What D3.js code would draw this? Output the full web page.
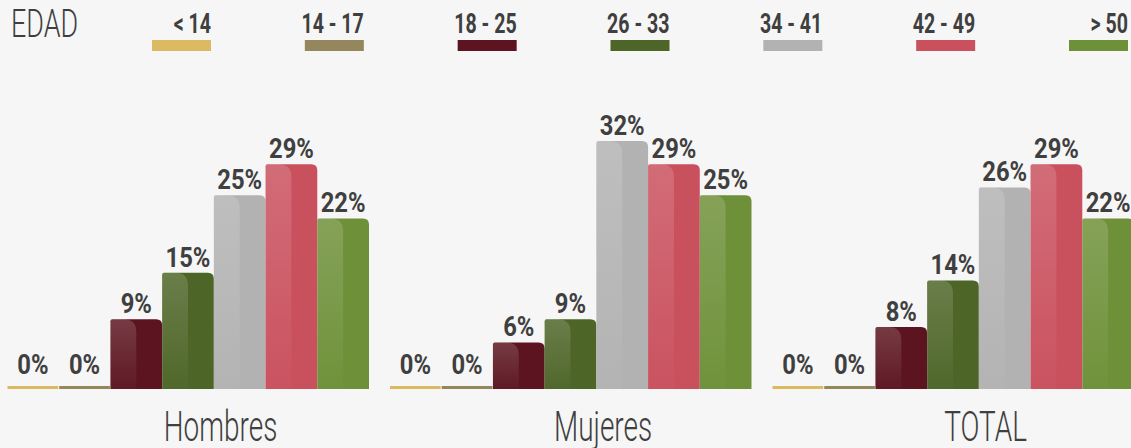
<!DOCTYPE html>
<html>
<head>
<meta charset="utf-8">
<script src="https://cdn.jsdelivr.net/npm/d3@7"></script>
<style>
  html, body { margin: 0; padding: 0; background: #f6f6f6; }
  svg { display: block; }
</style>
</head>
<body>
<svg id="chart" width="1131" height="448"></svg>
<script>
"use strict";

// age bands and their colours
const ages = ["< 14", "14 - 17", "18 - 25", "26 - 33", "34 - 41", "42 - 49", "> 50"];
const ageColors = ["#dbba62", "#94875e", "#5c1520", "#4d6527", "#b2b2b2", "#c9505d", "#6e9038"];

// groups and percentages
const groups = ["Hombres", "Mujeres", "TOTAL"];
const hombres = [0, 0, 9, 15, 25, 29, 22];
const mujeres = [0, 0, 6, 9, 32, 29, 25];
const total   = [0, 0, 8, 14, 26, 29, 22];
const series  = [hombres, mujeres, total];

const svg = d3.select("#chart");
const W = 1131, H = 448;
const textColor = "#3f3f3f";
const font = "Roboto, 'DejaVu Sans Condensed', sans-serif";

svg.append("rect").attr("width", W).attr("height", H).attr("fill", "#f6f6f6");

// highlight gradient for the left half of each bar
const defs = svg.append("defs");
const hl = defs.append("linearGradient").attr("id", "hl")
  .attr("x1", 0).attr("y1", 0).attr("x2", 0).attr("y2", 1);
hl.append("stop").attr("offset", "0%").attr("stop-color", "#fff").attr("stop-opacity", 0.16);
hl.append("stop").attr("offset", "100%").attr("stop-color", "#fff").attr("stop-opacity", 0.02);

// scales
const x0 = d3.scaleBand().domain(groups).range([7, 1134]).paddingInner(0.0536);
const x1 = d3.scaleBand().domain(ages).range([0, x0.bandwidth()]).padding(0);
const y  = d3.scaleLinear().domain([0, 32]).range([389, 141]);
const color = d3.scaleOrdinal().domain(ages).range(ageColors);

// bar outline: small radius top-left, bigger radius top-right
function barPath(x, top, w, bottom, rl, rr) {
  const h = bottom - top;
  rl = Math.min(rl, h); rr = Math.min(rr, h);
  return `M${x},${bottom}V${top + rl}Q${x},${top} ${x + rl},${top}` +
         `H${x + w - rr}Q${x + w},${top} ${x + w},${top + rr}V${bottom}Z`;
}

// condense text horizontally around its anchor point (the original face is a condensed one)
function condense(sel, k) {
  sel.each(function () {
    const t = d3.select(this);
    const tx = +t.attr("x"), ty = +t.attr("y");
    t.attr("transform", `translate(${tx},${ty}) scale(${k},1) translate(${-tx},${-ty})`);
  });
}

const minH = 3;

groups.forEach((g, gi) => {
  const data = ages.map((a, i) => ({ age: a, value: series[gi][i] }));
  const gg = svg.append("g").attr("transform", `translate(${x0(g)},0)`);

  const bars = gg.selectAll(".bar").data(data).enter().append("g").attr("class", "bar");

  bars.append("path")
    .attr("d", d => {
      const top = Math.min(y(d.value), y(0) - minH);
      const big = d.value > 0;
      return barPath(x1(d.age) + (big ? 0 : 0.5), top, x1.bandwidth() - (big ? 0 : 1), y(0), big ? 2 : 0, big ? 6 : 0);
    })
    .attr("fill", d => color(d.age));

  // lighter left half
  bars.filter(d => d.value > 0).append("path")
    .attr("d", d => barPath(x1(d.age), y(d.value), x1.bandwidth() * 0.5, y(0), 2, 13))
    .attr("fill", "url(#hl)");

  // value labels
  bars.append("text")
    .attr("x", d => x1(d.age) + x1.bandwidth() / 2)
    .attr("y", d => Math.min(y(d.value), y(0) - 9) - 6)
    .attr("text-anchor", "middle")
    .attr("font-family", font)
    .attr("font-weight", 700)
    .attr("font-size", 28)
    .attr("fill", textColor)
    .text(d => d.value + "%")
    .call(condense, 0.85);

  // group title
  svg.append("text")
    .attr("x", x0(g) + x0.bandwidth() * 0.59)
    .attr("y", 441)
    .attr("text-anchor", "middle")
    .attr("font-family", font)
    .attr("font-weight", 300)
    .attr("font-size", 43)
    .attr("fill", textColor)
    .text(g)
    .call(condense, 0.65);
});

// legend
const title = svg.append("text")
  .attr("x", 11).attr("y", 37)
  .attr("font-family", font)
  .attr("font-weight", 300)
  .attr("font-size", 39)
  .attr("fill", textColor)
  .text("EDAD");
condense(title, 0.69);

const lx = d3.scalePoint().domain(ages).range([211, 1128]);
const leg = svg.selectAll(".leg").data(ages).enter().append("g").attr("class", "leg");

leg.append("rect")
  .attr("x", d => lx(d) - 59).attr("y", 40)
  .attr("width", 59).attr("height", 11)
  .attr("fill", d => color(d));

leg.append("text")
  .attr("x", d => lx(d)).attr("y", 33)
  .attr("text-anchor", "end")
  .attr("font-family", font)
  .attr("font-weight", 700)
  .attr("font-size", 28)
  .attr("fill", textColor)
  .text(d => d)
  .call(condense, 0.7);
</script>
</body>
</html>
